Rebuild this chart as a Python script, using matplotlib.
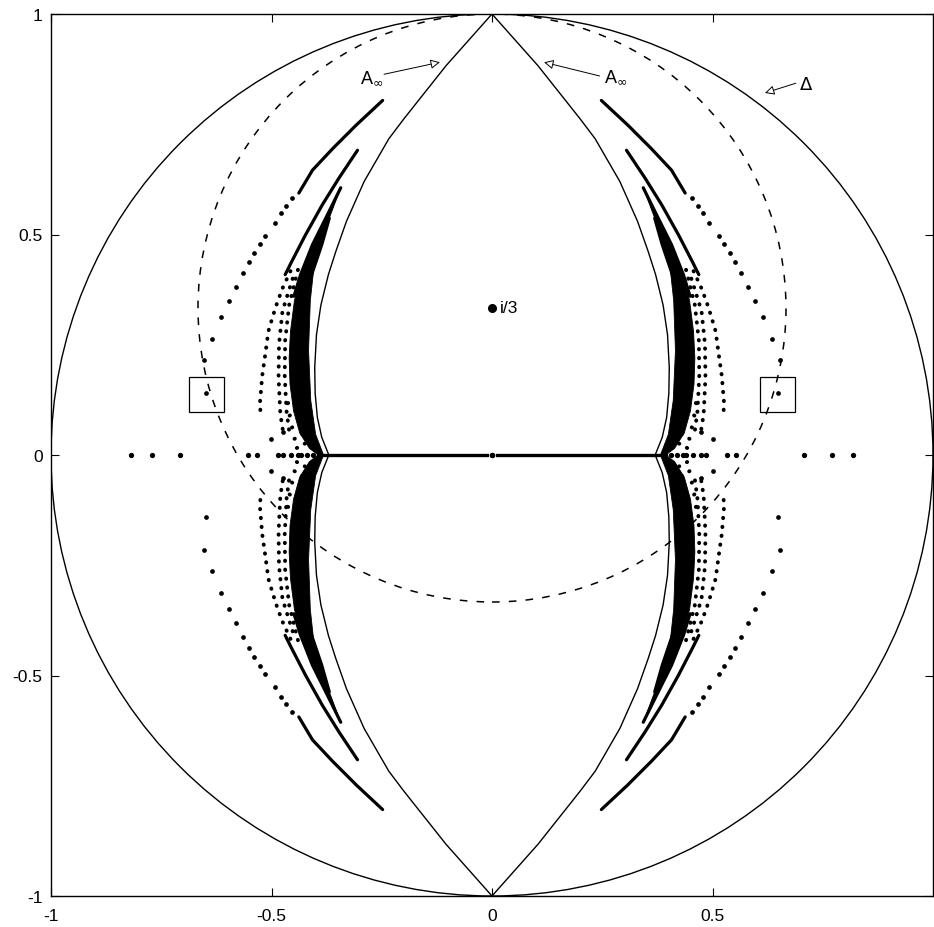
import numpy as np
import matplotlib.pyplot as plt
from matplotlib.patches import Circle, Rectangle

plt.rcParams['font.family'] = ['Liberation Sans', 'DejaVu Sans']
plt.rcParams['mathtext.fontset'] = 'dejavusans'

# --- data (upper right quarter, mirrored for the rest) ---
# A-infinity curve
ainf_x = [0.0, 0.104, 0.200, 0.234, 0.290, 0.330, 0.354, 0.371, 0.388, 0.398, 0.402, 0.401, 0.396, 0.386, 0.370]
ainf_y = [1.0, 0.883, 0.762, 0.717, 0.620, 0.530, 0.462, 0.409, 0.340, 0.273, 0.198, 0.140, 0.085, 0.040, 0.0]

# thick (dense) orbit arcs
arcA_x = [0.248, 0.308, 0.361, 0.407, 0.438]
arcA_y = [0.804, 0.748, 0.695, 0.646, 0.594]
arcB_x = [0.305, 0.347, 0.385, 0.423, 0.454, 0.469]
arcB_y = [0.691, 0.628, 0.567, 0.499, 0.439, 0.409]
arcC_x = [0.343, 0.377, 0.407, 0.434, 0.449]
arcC_y = [0.606, 0.537, 0.477, 0.409, 0.360]
arcD_x = [0.369, 0.386, 0.409, 0.425]
arcD_y = [0.537, 0.477, 0.409, 0.350]

# sparse tail of the outer arc (single dots)
tailA_x = [0.453, 0.467, 0.478, 0.493, 0.514, 0.526, 0.539, 0.551, 0.565,
           0.581, 0.597, 0.615, 0.636, 0.654, 0.648]
tailA_y = [0.583, 0.564, 0.549, 0.525, 0.497, 0.478, 0.457, 0.437, 0.412,
           0.381, 0.350, 0.312, 0.263, 0.215, 0.140]

# dotted columns
tailB_x = [0.457, 0.476, 0.491, 0.507, 0.514, 0.521, 0.526, 0.525]
tailB_y = [0.417, 0.376, 0.334, 0.281, 0.229, 0.180, 0.120, 0.094]
colE_x = [0.452, 0.475, 0.483, 0.484, 0.480, 0.474]
colE_y = [0.400, 0.327, 0.251, 0.176, 0.093, 0.055]
colF_x = [0.440, 0.460, 0.469, 0.470, 0.466, 0.458]
colF_y = [0.420, 0.340, 0.260, 0.180, 0.100, 0.040]
fish_x = [[0.446, 0.470], [0.442, 0.466], [0.436, 0.460], [0.430, 0.452], [0.424, 0.446]]
fish_y = [[0.130, 0.112], [0.102, 0.084], [0.074, 0.058], [0.048, 0.034], [0.026, 0.014]]

# dense core of the band
core_out_x = [0.343, 0.377, 0.407, 0.432, 0.448, 0.457, 0.460, 0.458, 0.450, 0.436, 0.414, 0.394]
core_out_y = [0.606, 0.537, 0.477, 0.409, 0.350, 0.280, 0.220, 0.160, 0.100, 0.050, 0.015, 0.0]
core_in_x = [0.382, 0.400, 0.411, 0.416, 0.412, 0.404, 0.386, 0.369, 0.343]
core_in_y = [0.0, 0.047, 0.124, 0.237, 0.350, 0.424, 0.477, 0.537, 0.606]

# dots on the real axis
axis_dots = [0.0, 0.405, 0.42, 0.432, 0.44, 0.455, 0.475, 0.486, 0.532, 0.554, 0.708, 0.770, 0.819]
near_axis_x = [0.502, 0.474]
near_axis_y = [0.036, 0.052]
axis_line = [0.012, 0.395]

# circles: unit disc and dashed circle around i/3
disc_r = 1.0
dash_c = (0.0, 1 / 3)
dash_r = 2 / 3
box_x = [-0.647, 0.647]
box_y = [0.138, 0.138]
box_side = 0.08

fig = plt.figure(figsize=(9.34, 9.28), dpi=100)
ax = fig.add_axes([51 / 934, 31 / 928, 882 / 934, 882 / 928])
ax.set_xlim(-1, 1)
ax.set_ylim(-1, 1)

ax.add_patch(Circle((0, 0), disc_r, fill=False, ec='k', lw=1.0))
ax.add_patch(Circle(dash_c, dash_r, fill=False, ec='k', lw=1.1,
                    linestyle=(0, (5, 6))))

k = dict(color='k')
dotted = dict(lw=2.8, linestyle=(0, (0.1, 2.2)), dash_capstyle='round', color='k')
for sx in (1, -1):
    for sy in (1, -1):
        fx = lambda v: sx * np.asarray(v)
        fy = lambda v: sy * np.asarray(v)
        ax.plot(fx(ainf_x), fy(ainf_y), lw=1.0, **k)
        ax.fill(np.r_[fx(core_out_x), fx(core_in_x)],
                np.r_[fy(core_out_y), fy(core_in_y)], color='k', lw=0.6)
        for xs, ys in [(arcA_x, arcA_y), (arcB_x, arcB_y), (arcC_x, arcC_y), (arcD_x, arcD_y)]:
            ax.plot(fx(xs), fy(ys), lw=2.3, solid_capstyle='round', **k)
        ax.plot(fx(tailA_x), fy(tailA_y), 'o', ms=3.4, mec='none', **k)
        for xs, ys in [(tailB_x, tailB_y), (colE_x, colE_y), (colF_x, colF_y)]:
            ax.plot(fx(xs), fy(ys), **dotted)
        for xs, ys in zip(fish_x, fish_y):
            ax.plot(fx(xs), fy(ys), **dotted)
        ax.plot(fx(near_axis_x), fy(near_axis_y), 'o', ms=3.4, mec='none', **k)
    ax.plot(sx * np.asarray(axis_line), [0, 0], lw=2.4, **k)
    ax.plot(sx * np.asarray(axis_dots), np.zeros(len(axis_dots)), 'o',
            ms=3.8, mec='none', **k)

for bx, by in zip(box_x, box_y):
    ax.add_patch(Rectangle((bx - box_side / 2, by - box_side / 2), box_side, box_side,
                           fill=False, ec='k', lw=0.9))

# point i/3
ax.plot([0], [1 / 3], 'o', ms=5.5, **k)
ax.text(0.018, 1 / 3, 'i/3', fontsize=12.5, va='center', ha='left')

# labels with hollow arrows
arrow = dict(arrowstyle='-|>', fc='white', ec='k', lw=0.7, mutation_scale=14)
ax.text(-0.30, 0.846, r'A$_\infty$', fontsize=13, ha='left', va='baseline')
ax.annotate('', xy=(-0.112, 0.892), xytext=(-0.251, 0.862), arrowprops=arrow)
ax.text(0.255, 0.847, r'A$_\infty$', fontsize=13, ha='left', va='baseline')
ax.annotate('', xy=(0.112, 0.892), xytext=(0.25, 0.858), arrowprops=arrow)
ax.text(0.697, 0.831, r'$\Delta$', fontsize=13, ha='left', va='baseline')
ax.annotate('', xy=(0.613, 0.819), xytext=(0.695, 0.845), arrowprops=arrow)

ax.set_xticks([-1, -0.5, 0, 0.5])
ax.set_xticklabels(['-1', '-0.5', '0', '0.5'])
ax.set_yticks([-1, -0.5, 0, 0.5, 1])
ax.set_yticklabels(['-1', '-0.5', '0', '0.5', '1'])
ax.tick_params(direction='in', length=6, width=0.8, labelsize=12.5,
               top=True, right=True, pad=6)
ax.tick_params(axis='x', pad=9)
for s in ax.spines.values():
    s.set_linewidth(1.0)

fig.savefig('out.png', dpi=100)
